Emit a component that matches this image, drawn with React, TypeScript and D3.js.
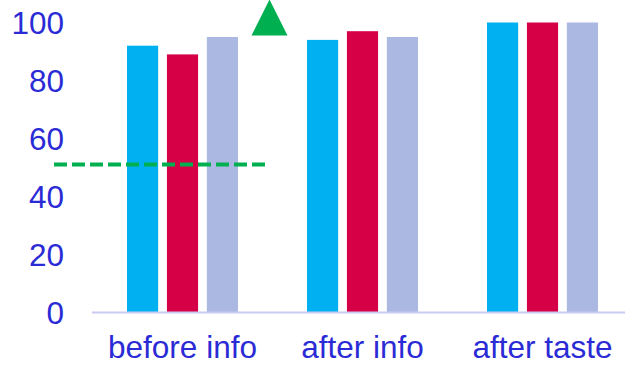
import React from "react";
import * as d3 from "d3";

const categories = ["before info", "after info", "after taste"];
const seriesNames = ["s1", "s2", "s3"];
const seriesA = [92, 94, 100];
const seriesB = [89, 97, 100];
const seriesC = [95, 95, 100];
const yTicks = [0, 20, 40, 60, 80, 100];
const thresholdValue = 51;
const markerValue = 95.5;

const colors = ["#00b0f0", "#d50046", "#abb9e2"];
const textColor = "#2b2bd6";

const W = 625;
const H = 365;

export default function App() {
  const x0 = d3.scaleBand<string>().domain(categories).range([92.5, 632.5]).padding(0);
  const x1 = d3
    .scaleBand<string>()
    .domain(seriesNames)
    .range([34.5, 145.5])
    .paddingInner(0.22)
    .paddingOuter(0);
  const y = d3.scaleLinear().domain([0, 100]).range([312.5, 22.5]);
  const series = [seriesA, seriesB, seriesC];

  const firstX = x0(categories[0])!;
  const triCx = firstX + 177;
  const triBase = y(markerValue);
  const triPath = d3.path();
  triPath.moveTo(triCx - 18, triBase);
  triPath.lineTo(triCx, triBase - 36);
  triPath.lineTo(triCx + 18, triBase);
  triPath.closePath();

  return (
    <div style={{ position: "absolute", left: 0, top: 0 }}>
      <svg width={W} height={H} style={{ display: "block" }} fontFamily="'Liberation Sans', Arial, sans-serif">
        <rect width={W} height={H} fill="#ffffff" />
        {categories.map((c, ci) =>
          series.map((s, si) => (
            <rect
              key={c + si}
              x={x0(c)! + x1(seriesNames[si])!}
              y={y(s[ci])}
              width={x1.bandwidth()}
              height={y(0) - y(s[ci])}
              fill={colors[si]}
            />
          ))
        )}
        <line x1={92} x2={W} y1={y(0)} y2={y(0)} stroke="#c9c9f2" strokeWidth={2} />
        {yTicks.map((t) => (
          <text
            key={t}
            x={64}
            y={y(t)}
            textAnchor="end"
            dominantBaseline="central"
            fontSize={31.5}
            fill={textColor}
          >
            {t}
          </text>
        ))}
        {categories.map((c) => (
          <text
            key={c}
            x={x0(c)! + x0.bandwidth() / 2}
            y={357.5}
            textAnchor="middle"
            fontSize={31.5}
            fill={textColor}
          >
            {c}
          </text>
        ))}
        <line
          x1={firstX - 38.5}
          x2={firstX + 172.5}
          y1={y(thresholdValue)}
          y2={y(thresholdValue)}
          stroke="#00b050"
          strokeWidth={4}
          strokeDasharray="13 5"
        />
        <path d={triPath.toString()} fill="#00b050" />
      </svg>
    </div>
  );
}
